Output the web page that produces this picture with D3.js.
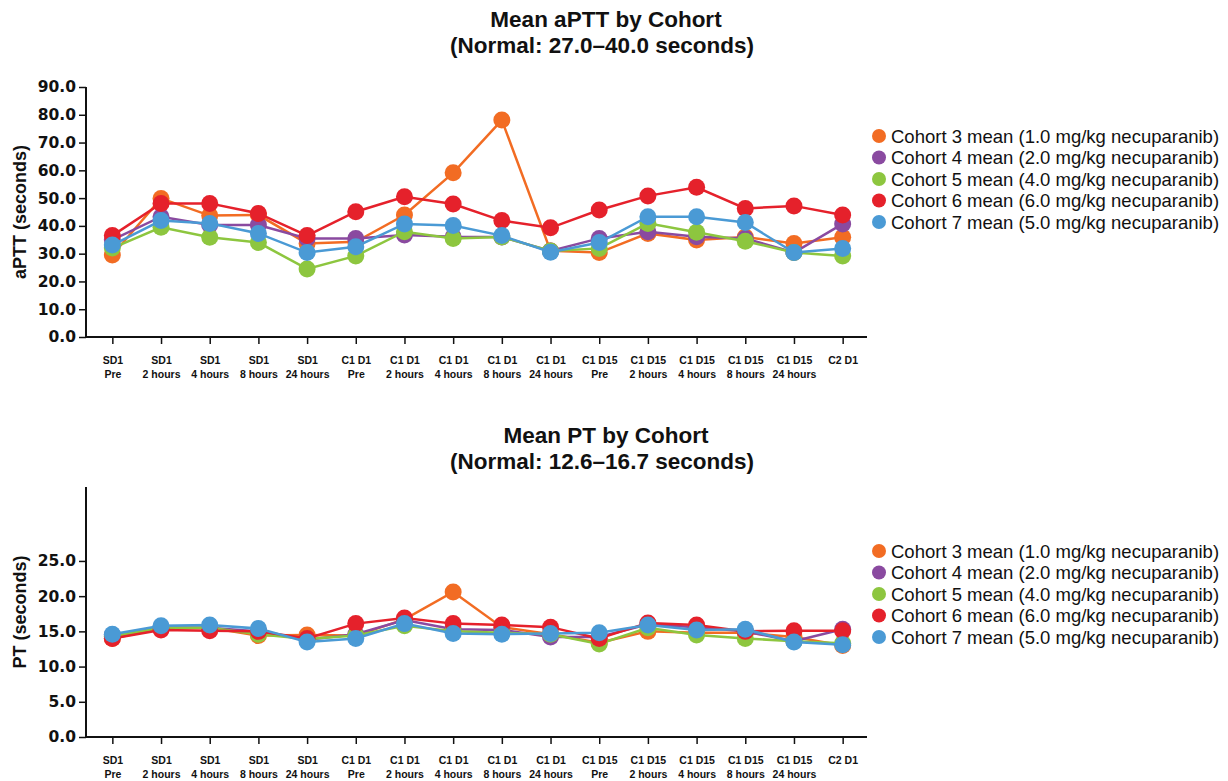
<!DOCTYPE html>
<html>
<head>
<meta charset="utf-8">
<script src="https://cdn.jsdelivr.net/npm/d3@7"></script>
<style>
  body { margin: 0; background: #fff; }
  svg { display: block; }
  text { font-family: "Liberation Sans", Arial, sans-serif; fill: #111; }
</style>
</head>
<body>
<div id="chart-holder"></div>
<script>
// ****DATA****
const timepoints = [
  ["SD1", "Pre"], ["SD1", "2 hours"], ["SD1", "4 hours"], ["SD1", "8 hours"], ["SD1", "24 hours"],
  ["C1 D1", "Pre"], ["C1 D1", "2 hours"], ["C1 D1", "4 hours"], ["C1 D1", "8 hours"], ["C1 D1", "24 hours"],
  ["C1 D15", "Pre"], ["C1 D15", "2 hours"], ["C1 D15", "4 hours"], ["C1 D15", "8 hours"], ["C1 D15", "24 hours"],
  ["C2 D1", ""]
];
const cohortNames = [
  "Cohort 3 mean (1.0 mg/kg necuparanib)",
  "Cohort 4 mean (2.0 mg/kg necuparanib)",
  "Cohort 5 mean (4.0 mg/kg necuparanib)",
  "Cohort 6 mean (6.0 mg/kg necuparanib)",
  "Cohort 7 mean (5.0 mg/kg necuparanib)"
];
const cohortColors = ["#F26C23", "#8A4AA0", "#8DC63F", "#E5212B", "#4A9AD5"];

// aPTT (seconds)
const apttCohort3 = [29.5, 49.9, 43.7, 43.9, 33.7, 34.3, 43.9, 59.1, 78.1, 31.0, 30.4, 37.3, 34.9, 36.0, 33.7, 35.9];
const apttCohort4 = [35.0, 43.3, 40.3, 40.3, 35.5, 35.5, 36.7, 36.1, 36.0, 31.0, 35.5, 37.9, 36.1, 35.5, 30.4, 40.7];
const apttCohort5 = [32.0, 39.5, 35.9, 34.0, 24.5, 29.2, 37.9, 35.5, 36.0, 31.0, 31.9, 40.9, 37.7, 34.5, 30.4, 29.2];
const apttCohort6 = [36.5, 48.1, 48.1, 44.5, 36.5, 45.1, 50.5, 47.9, 41.9, 39.3, 45.7, 50.8, 53.9, 46.3, 47.2, 43.9];
const apttCohort7 = [33.1, 41.9, 40.9, 37.3, 30.4, 32.5, 40.7, 40.1, 36.5, 30.5, 34.0, 43.3, 43.3, 41.2, 30.4, 31.9];
const apttTicks = [0, 10, 20, 30, 40, 50, 60, 70, 80, 90];

// PT (seconds)
const ptCohort3 = [14.0, 15.4, 15.5, 14.4, 14.5, 14.4, 16.7, 20.6, 15.6, 14.6, 13.4, 15.0, 14.8, 14.8, 14.2, 13.0];
const ptCohort4 = [14.5, 15.6, 15.5, 15.0, 13.8, 14.6, 16.6, 15.3, 15.2, 14.2, 14.2, 16.0, 15.6, 15.0, 13.6, 15.3];
const ptCohort5 = [14.3, 15.5, 15.5, 14.6, 13.9, 14.4, 15.8, 15.0, 14.8, 14.6, 13.2, 15.5, 14.5, 14.0, 13.6, 13.3];
const ptCohort6 = [14.0, 15.2, 15.1, 15.0, 14.0, 16.1, 16.9, 16.1, 15.9, 15.6, 14.0, 16.2, 15.9, 15.0, 15.1, 15.1];
const ptCohort7 = [14.6, 15.8, 15.9, 15.4, 13.5, 14.0, 16.1, 14.7, 14.6, 14.7, 14.8, 15.9, 15.2, 15.3, 13.5, 13.1];
const ptTicks = [0, 5, 10, 15, 20, 25];

// ****CANVAS****
const width = 1228;
const height = 781;
const svg = d3.select('#chart-holder')
  .append('svg')
  .attr('width', width)
  .attr('height', height);

svg.append('rect').attr('width', width).attr('height', height).attr('fill', '#fff');

const keys = timepoints.map((d, i) => i);

function drawPanel(opts) {
  const g = svg.append('g');

  // titles
  g.append('text')
    .attr('x', 606).attr('y', opts.titleY)
    .attr('text-anchor', 'middle')
    .style('font-weight', 'bold').style('font-size', '22.5px')
    .text(opts.title);
  g.append('text')
    .attr('x', 602).attr('y', opts.titleY + 26)
    .attr('text-anchor', 'middle')
    .style('font-weight', 'bold').style('font-size', '22.5px')
    .text(opts.subtitle);

  const xScale = d3.scalePoint()
    .domain(keys)
    .range([88, 867])
    .padding(0.5);
  const yScale = d3.scaleLinear()
    .domain([0, opts.yMax])
    .range([opts.bottom, opts.top]);

  // y axis
  const yAxis = g.append('g')
    .attr('transform', 'translate(86,0)')
    .call(d3.axisLeft(yScale).tickValues(opts.ticks).tickSize(7).tickPadding(3)
      .tickFormat(d3.format('.1f')));
  yAxis.select('.domain').remove();
  yAxis.append('line')
    .attr('x1', 0).attr('x2', 0)
    .attr('y1', opts.top).attr('y2', opts.bottom)
    .attr('stroke', '#111').attr('stroke-width', 2);
  yAxis.selectAll('.tick line').attr('stroke', '#111').attr('stroke-width', 1.5);
  yAxis.selectAll('.tick text')
    .style('font-family', '"DejaVu Sans", sans-serif')
    .style('font-weight', 'bold').style('font-size', '15.5px')
    .attr('fill', '#111');

  // x axis
  const xAxis = g.append('g')
    .attr('transform', `translate(0,${opts.bottom})`)
    .call(d3.axisBottom(xScale).tickSize(7).tickFormat(''));
  xAxis.select('.domain').remove();
  xAxis.append('line')
    .attr('x1', 85).attr('x2', 867)
    .attr('stroke', '#111').attr('stroke-width', 2);
  xAxis.selectAll('.tick line').attr('stroke', '#111').attr('stroke-width', 1.5);
  xAxis.selectAll('.tick').each(function (d) {
    const t = d3.select(this).append('text')
      .attr('text-anchor', 'middle')
      .style('font-weight', 'bold').style('font-size', '10.5px')
      .attr('fill', '#111');
    t.append('tspan').attr('x', 0).attr('y', 27).text(timepoints[d][0]);
    t.append('tspan').attr('x', 0).attr('y', 41).text(timepoints[d][1]);
  });

  // y axis label
  g.append('text')
    .attr('transform', 'rotate(-90)')
    .attr('x', -(opts.labelCenter)).attr('y', 26)
    .attr('text-anchor', 'middle')
    .style('font-weight', 'bold').style('font-size', '18px')
    .text(opts.yLabel);

  // lines + markers
  const line = d3.line()
    .x((d, i) => xScale(i))
    .y(d => yScale(d));
  opts.series.forEach((values, s) => {
    const sg = g.append('g');
    sg.append('path')
      .datum(values)
      .attr('fill', 'none')
      .attr('stroke', cohortColors[s])
      .attr('stroke-width', 2.5)
      .attr('d', line);
    sg.selectAll('circle')
      .data(values)
      .enter()
      .append('circle')
      .attr('cx', (d, i) => xScale(i))
      .attr('cy', d => yScale(d))
      .attr('r', 8.5)
      .attr('fill', cohortColors[s]);
  });

  // legend
  const legend = g.append('g')
    .attr('transform', `translate(879,${opts.legendY})`);
  cohortNames.forEach((name, i) => {
    const row = legend.append('g').attr('transform', `translate(0,${i * 21.5})`);
    row.append('circle').attr('r', 7).attr('fill', cohortColors[i]);
    row.append('text')
      .attr('x', 12).attr('y', 6.5)
      .style('font-size', '18.5px')
      .text(name);
  });
}

drawPanel({
  title: 'Mean aPTT by Cohort',
  subtitle: '(Normal: 27.0\u201340.0 seconds)',
  titleY: 27,
  top: 87, bottom: 337, yMax: 90,
  ticks: apttTicks,
  yLabel: 'aPTT (seconds)',
  labelCenter: 212,
  legendY: 136,
  series: [apttCohort3, apttCohort4, apttCohort5, apttCohort6, apttCohort7]
});

drawPanel({
  title: 'Mean PT by Cohort',
  subtitle: '(Normal: 12.6\u201316.7 seconds)',
  titleY: 443,
  top: 487, bottom: 737, yMax: 35.5,
  ticks: ptTicks,
  yLabel: 'PT (seconds)',
  labelCenter: 612,
  legendY: 551,
  series: [ptCohort3, ptCohort4, ptCohort5, ptCohort6, ptCohort7]
});
</script>
</body>
</html>
